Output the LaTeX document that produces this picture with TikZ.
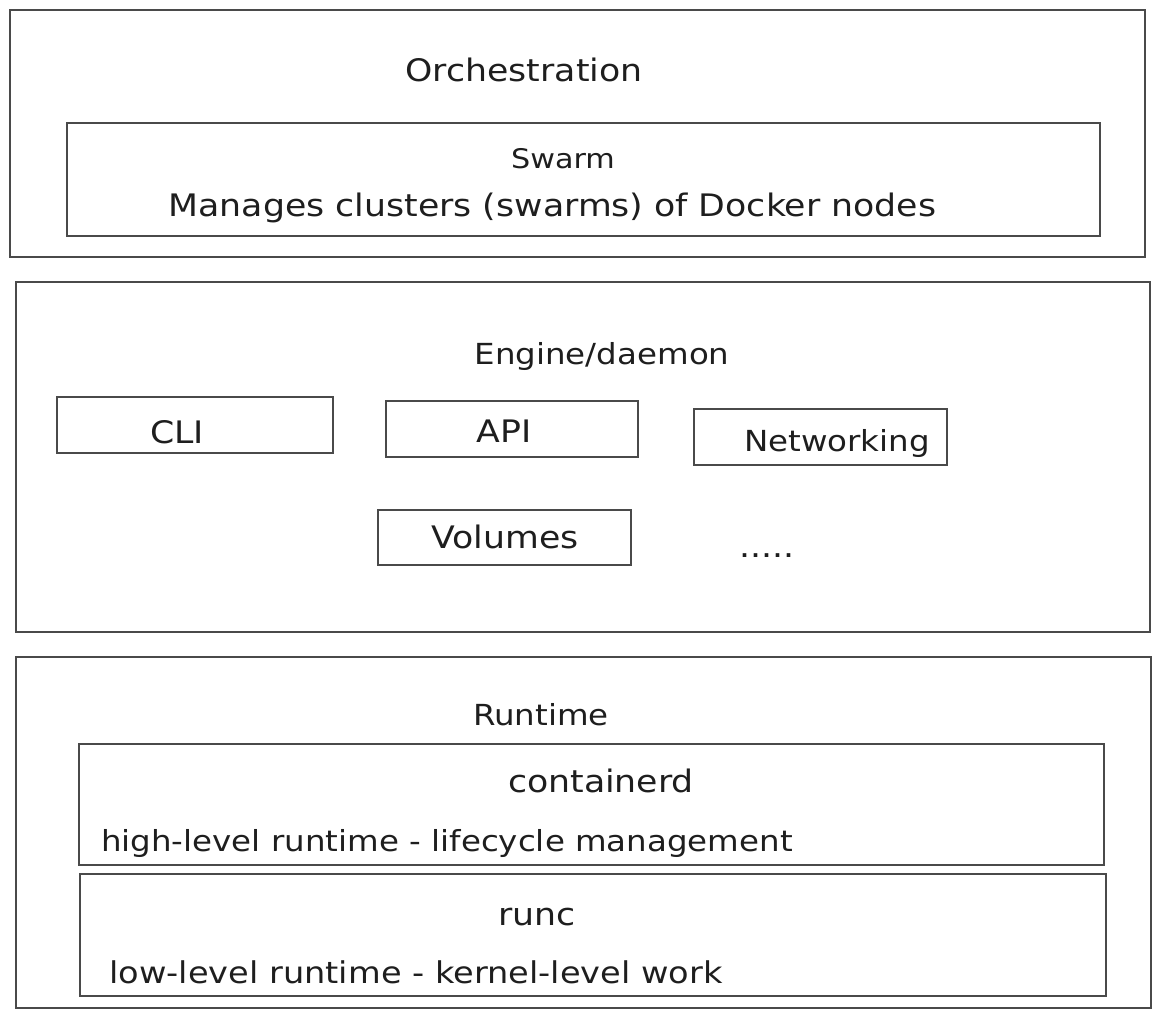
\documentclass[tikz,border=0pt]{standalone}
\usepackage{fontspec}
\setmainfont[FakeStretch=1.12]{DejaVu Sans}
\usepackage{tikz}
\definecolor{linegray}{HTML}{4A4A4A}
\definecolor{inkblack}{HTML}{1E1E1E}
\tikzset{
  box/.style={draw=linegray, line width=1.5bp, inner sep=0pt},
  lbl/.style={text=inkblack, font=\fontsize{31bp}{36bp}\selectfont, anchor=base, inner sep=0pt},
  lblsm/.style={lbl, font=\fontsize{29bp}{34bp}\selectfont},
  lbltiny/.style={lbl, font=\fontsize{27bp}{31bp}\selectfont}
}
\begin{document}
\begin{tikzpicture}[x=1bp, y=-1bp]
\useasboundingbox (0,0) rectangle (1161,1018);
\node [box, minimum width=1135bp, minimum height=247bp] (orch) at (577.5,133.5) {};
\node [box, minimum width=1033bp, minimum height=113bp] (swarm) at (583.5,179.5) {};
\node [lbl] (orchtitle) at (524,81) {Orchestration};
\node [lbltiny] (swarmtitle) at (563,168) {Swarm};
\node [lbl] (swarmtext) at (552.5,216) {Manages clusters (swarms) of Docker nodes};
\node [box, minimum width=1134bp, minimum height=350bp] (engine) at (583,457) {};
\node [lblsm] (enginetitle) at (602,364) {Engine/daemon};
\node [box, minimum width=276bp, minimum height=56bp] (cli) at (195,425) {};
\node [box, minimum width=252bp, minimum height=56bp] (api) at (512,429) {};
\node [box, minimum width=253bp, minimum height=56bp] (net) at (820.5,437) {};
\node [box, minimum width=253bp, minimum height=55bp] (vol) at (504.5,537.5) {};
\node [lbl] (clitext) at (177,443) {CLI};
\node [lbl] (apitext) at (504,442) {API};
\node [lblsm] (nettext) at (837,451) {Networking};
\node [lbl] (voltext) at (505,548) {Volumes};
\node [lbl] (more) at (767,557) {.....};
\node [box, minimum width=1135bp, minimum height=351bp] (runtime) at (583.5,832.5) {};
\node [lblsm] (runtimetitle) at (541,725) {Runtime};
\node [box, minimum width=1025bp, minimum height=121bp] (containerd) at (591.5,804.5) {};
\node [box, minimum width=1026bp, minimum height=122bp] (runc) at (593,935) {};
\node [lbl] (ctrtitle) at (601,792) {containerd};
\node [lblsm] (ctrtext) at (447,851) {high-level runtime - lifecycle management};
\node [lbl] (runctitle) at (537,925) {runc};
\node [lblsm, font=\fontsize{30bp}{35bp}\selectfont] (runctext) at (416,983) {low-level runtime - kernel-level work};
\end{tikzpicture}
\end{document}
